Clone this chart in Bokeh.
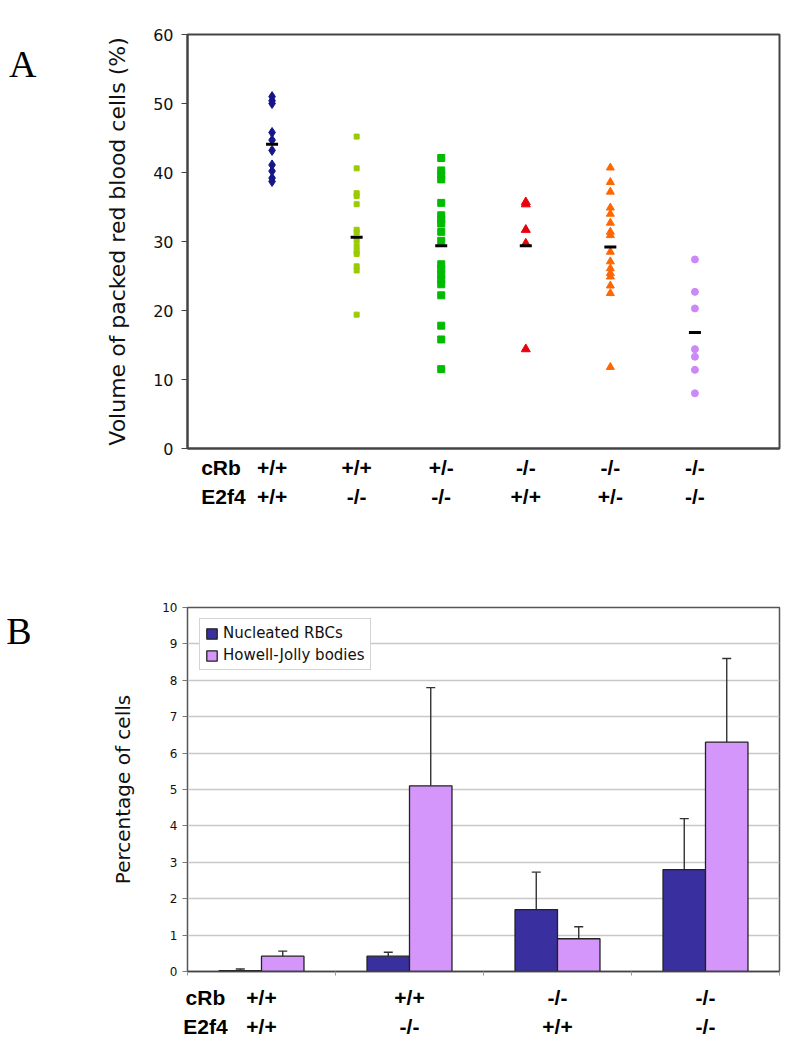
from bokeh.plotting import figure
from bokeh.layouts import column
from bokeh.models import (Range1d, FixedTicker, Legend, LegendItem, LinearAxis,
                          ColumnDataSource, Whisker, TeeHead)
from bokeh.embed import file_html
from bokeh.resources import INLINE

# ---------------- Panel A data ----------------
cRb_A = ["+/+", "+/+", "+/-", "-/-", "-/-", "-/-"]
E2f4_A = ["+/+", "-/-", "-/-", "+/+", "+/-", "-/-"]
pcv_g1 = [51.0, 50.4, 50.0, 45.8, 44.7, 43.2, 41.1, 40.2, 39.2, 38.7]
pcv_g2 = [45.2, 40.6, 37.0, 36.6, 35.4, 31.7, 31.3, 30.1, 29.3, 28.6, 28.2, 26.4, 25.8, 19.4]
pcv_g3 = [42.1, 40.3, 39.6, 39.0, 35.6, 33.8, 33.2, 32.6, 31.4, 30.1, 26.7, 26.0,
          25.2, 24.5, 23.8, 22.2, 17.8, 15.8, 11.5]
pcv_g4 = [35.7, 35.4, 31.7, 29.7, 14.4]
pcv_g5 = [40.7, 38.6, 37.2, 34.9, 34.0, 32.7, 31.4, 30.9, 28.5, 27.1, 26.1, 25.4,
          24.9, 23.6, 22.5, 11.8]
pcv_g6 = [27.4, 22.7, 20.3, 14.4, 13.3, 11.4, 8.0]
means_A = [44.1, 30.6, 29.4, 29.4, 29.2, 16.8]
yticks_A = [0, 10, 20, 30, 40, 50, 60]

# ---------------- Panel B data ----------------
cRb_B = ["+/+", "+/+", "-/-", "-/-"]
E2f4_B = ["+/+", "-/-", "+/+", "-/-"]
nucleated = [0.02, 0.42, 1.70, 2.80]
nucleated_sd = [0.05, 0.11, 1.03, 1.40]
howell = [0.42, 5.10, 0.90, 6.30]
howell_sd = [0.14, 2.70, 0.33, 2.30]
series_B = ["Nucleated RBCs", "Howell-Jolly bodies"]

FONT = "DejaVu Sans"
BOLD = "Liberation Sans"


def label_axis(ticks, labels, standoff, size="21px"):
    ax = LinearAxis(ticker=FixedTicker(ticks=ticks),
                    major_label_overrides={t: s for t, s in zip(ticks, labels)})
    ax.axis_line_color = None
    ax.major_tick_line_color = None
    ax.minor_tick_line_color = None
    ax.major_tick_out = 0
    ax.major_tick_in = 0
    ax.major_label_standoff = standoff
    ax.major_label_text_font = BOLD
    ax.major_label_text_font_size = size
    ax.major_label_text_font_style = "bold"
    ax.major_label_text_color = "black"
    return ax


def letter_axis(y, letter, standoff):
    ax = LinearAxis(ticker=FixedTicker(ticks=[y]), major_label_overrides={y: letter})
    ax.axis_line_color = None
    ax.major_tick_line_color = None
    ax.minor_tick_line_color = None
    ax.major_tick_out = 0
    ax.major_tick_in = 0
    ax.major_label_standoff = standoff
    ax.major_label_text_font = "Liberation Serif"
    ax.major_label_text_font_size = "38px"
    ax.major_label_text_color = "black"
    return ax


# ================= Panel A =================
pA = figure(width=784, height=540, x_range=Range1d(0, 7), y_range=Range1d(0, 60),
            output_backend="svg", toolbar_location=None, x_axis_location=None,
            min_border_left=187, min_border_right=5, min_border_top=34, min_border_bottom=92)
pA.xgrid.visible = False
pA.ygrid.visible = False
pA.outline_line_color = "#444444"
pA.outline_line_width = 2

pA.yaxis.ticker = FixedTicker(ticks=yticks_A)
pA.yaxis.minor_tick_line_color = None
pA.yaxis.major_tick_out = 6
pA.yaxis.major_tick_in = 0
pA.yaxis.major_label_standoff = 8
pA.yaxis.major_label_text_font = FONT
pA.yaxis.major_label_text_font_size = "16px"
pA.yaxis.major_label_text_color = "#111111"
pA.yaxis.axis_line_color = "#444444"
pA.yaxis.axis_line_width = 2
pA.yaxis.major_tick_line_color = "#444444"
pA.yaxis.axis_label = "Volume of packed red blood cells (%)"
pA.yaxis.axis_label_text_font = FONT
pA.yaxis.axis_label_text_font_size = "22px"
pA.yaxis.axis_label_text_font_style = "normal"
pA.yaxis.axis_label_text_color = "#111111"
pA.yaxis.axis_label_standoff = 20

xA_row1 = [0.396] + [float(i + 1) for i in range(6)]
xA_row2 = [0.426] + [float(i + 1) for i in range(6)]
axA1 = label_axis(xA_row1, ["cRb"] + cRb_A, 7)
axA1.axis_line_color = "#444444"
axA1.axis_line_width = 2
axA2 = label_axis(xA_row2, ["E2f4"] + E2f4_A, 3)
pA.add_layout(axA1, "below")
pA.add_layout(axA2, "below")
pA.add_layout(letter_axis(55.7, "A", 66), "left")

groups_A = [pcv_g1, pcv_g2, pcv_g3, pcv_g4, pcv_g5, pcv_g6]
styles_A = [("diamond", "#161689", 10), ("square", "#99CC00", 5), ("square", "#00BB00", 7),
            ("triangle", "#E8000B", 9), ("triangle", "#FF6600", 8), ("circle", "#CC88F8", 7)]
for i, (vals, (mk, col, sz)) in enumerate(zip(groups_A, styles_A)):
    xs = [i + 1] * len(vals)
    pA.scatter(xs, vals, marker=mk, size=sz, fill_color=col, line_color=col)
pA.scatter(list(range(1, 7)), means_A, marker="dash", size=12, line_color="black", line_width=3)

# ================= Panel B =================
pB = figure(width=784, height=509, x_range=Range1d(0, 4), y_range=Range1d(0, 10),
            output_backend="svg", toolbar_location=None, x_axis_location=None,
            min_border_left=187, min_border_right=3, min_border_top=67, min_border_bottom=78)
pB.xgrid.visible = False
pB.ygrid.grid_line_color = "#c8c8c8"
pB.ygrid.grid_line_width = 1.5
pB.ygrid.ticker = FixedTicker(ticks=list(range(0, 11)))
pB.outline_line_color = "#555555"
pB.outline_line_width = 1.5

pB.yaxis.ticker = FixedTicker(ticks=list(range(0, 11)))
pB.yaxis.minor_tick_line_color = None
pB.yaxis.major_tick_out = 5
pB.yaxis.major_tick_in = 0
pB.yaxis.major_label_standoff = 5
pB.yaxis.major_label_text_font = FONT
pB.yaxis.major_label_text_font_size = "12px"
pB.yaxis.major_label_text_color = "#111111"
pB.yaxis.axis_line_color = "#555555"
pB.yaxis.major_tick_line_color = "#777777"
pB.yaxis.axis_label = "Percentage of cells"
pB.yaxis.axis_label_text_font = FONT
pB.yaxis.axis_label_text_font_size = "20px"
pB.yaxis.axis_label_text_font_style = "normal"
pB.yaxis.axis_label_text_color = "#111111"
pB.yaxis.axis_label_standoff = 24

centers = [0.5, 1.5, 2.5, 3.5]
xB_row1 = [0.121] + centers
xB_row2 = [0.121] + centers
axB1 = label_axis(xB_row1, ["cRb"] + cRb_B, 10)
axB1.ticker = FixedTicker(ticks=xB_row1, minor_ticks=[0.0, 1.0, 2.0, 3.0, 4.0])
axB1.axis_line_color = "#444444"
axB1.axis_line_width = 1.5
axB1.minor_tick_line_color = "#999999"
axB1.minor_tick_out = 4
axB1.minor_tick_in = 0
axB2 = label_axis(xB_row2, ["E2f4"] + E2f4_B, 3)
pB.add_layout(axB1, "below")
pB.add_layout(axB2, "below")
pB.add_layout(letter_axis(9.36, "B", 77), "left")

bw = 0.287
srcN = ColumnDataSource(dict(x=[c - bw / 2 for c in centers], top=nucleated,
                             upper=[v + s for v, s in zip(nucleated, nucleated_sd)]))
srcH = ColumnDataSource(dict(x=[c + bw / 2 for c in centers], top=howell,
                             upper=[v + s for v, s in zip(howell, howell_sd)]))
rN = pB.vbar(x="x", top="top", width=bw, bottom=0, source=srcN,
             fill_color="#3A2F9F", line_color="#222222", line_width=1.3)
rH = pB.vbar(x="x", top="top", width=bw, bottom=0, source=srcH,
             fill_color="#D596FC", line_color="#222222", line_width=1.3)
for src in (srcN, srcH):
    pB.add_layout(Whisker(source=src, base="x", lower="top", upper="upper",
                          line_color="#333333", line_width=1.4,
                          upper_head=TeeHead(size=9, line_color="#333333", line_width=1.4),
                          lower_head=None))

legend = Legend(items=[LegendItem(label=series_B[0], renderers=[rN]),
                       LegendItem(label=series_B[1], renderers=[rH])],
                location=(12, 301), orientation="vertical")
legend.label_text_font = FONT
legend.label_text_font_size = "15px"
legend.label_text_color = "#111111"
legend.glyph_width = 13
legend.glyph_height = 13
legend.label_height = 16
legend.label_standoff = 5
legend.spacing = 4
legend.padding = 5
legend.margin = 0
legend.border_line_color = "#aaaaaa"
legend.border_line_width = 1
legend.background_fill_color = "white"
legend.background_fill_alpha = 1
pB.add_layout(legend)

layout = column(pA, pB)
open("out.html", "w").write(file_html(layout, INLINE))
